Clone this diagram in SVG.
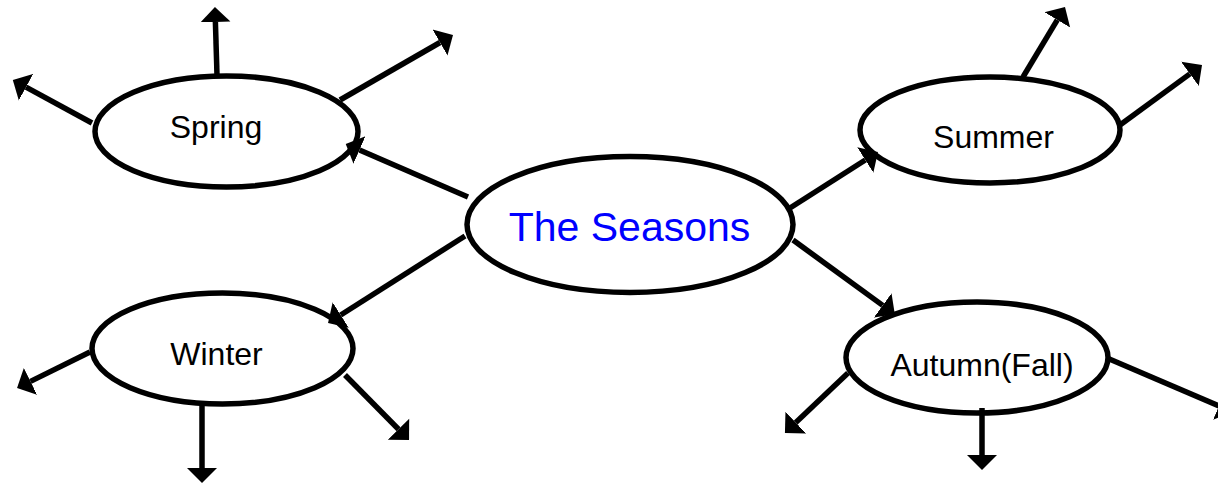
<svg xmlns="http://www.w3.org/2000/svg" width="1218" height="485" viewBox="0 0 1218 485">
<style>
.node ellipse{fill:#ffffff;stroke:#000000;stroke-width:5.5}
.lbl{font-family:"Liberation Sans",Arial,sans-serif;font-size:32px;fill:#000000;text-anchor:middle}
.main{font-family:"Liberation Sans",Arial,sans-serif;font-size:41px;fill:#0000ff;text-anchor:middle}
#connectors line{stroke:#000000;stroke-width:5.5;fill:none;marker-end:url(#ah)}
</style>
<defs>
<marker id="ah" markerUnits="userSpaceOnUse" markerWidth="18" markerHeight="32" viewBox="0 -16 18 32" refX="0" refY="0" orient="auto">
<path d="M0,-15 L15,0 L0,15 z" fill="#000000"/>
</marker>
</defs>
<rect width="1218" height="485" fill="#ffffff"/>
<g id="node-center" class="node"><ellipse cx="630" cy="224.5" rx="163" ry="68"/><text class="main" x="629.5" y="241">The Seasons</text></g>
<g id="node-spring" class="node"><ellipse cx="226.5" cy="131.5" rx="131.5" ry="55.5"/><text class="lbl" x="216" y="138">Spring</text></g>
<g id="node-summer" class="node"><ellipse cx="990" cy="130" rx="130" ry="53"/><text class="lbl" x="993.5" y="148">Summer</text></g>
<g id="node-winter" class="node"><ellipse cx="222.5" cy="348.5" rx="130.5" ry="55.5"/><text class="lbl" x="216.5" y="365">Winter</text></g>
<g id="node-autumn" class="node"><ellipse cx="977" cy="357.5" rx="131" ry="55.5"/><text class="lbl" x="982" y="376">Autumn(Fall)</text></g>
<g id="connectors">
<line x1="468" y1="197" x2="359.5" y2="150"/>
<line x1="217" y1="75" x2="215.4" y2="22"/>
<line x1="340" y1="100" x2="440" y2="42.5"/>
<line x1="92" y1="123" x2="26" y2="87.2"/>
<line x1="790" y1="208" x2="865.3" y2="160"/>
<line x1="1023" y1="77" x2="1057.3" y2="19.9"/>
<line x1="1120" y1="125" x2="1189.9" y2="73.9"/>
<line x1="465" y1="236" x2="340.7" y2="315"/>
<line x1="90" y1="352" x2="30.5" y2="381.4"/>
<line x1="202" y1="405" x2="202" y2="468"/>
<line x1="345" y1="375" x2="398.5" y2="429.3"/>
<line x1="793" y1="240" x2="882.7" y2="305.4"/>
<line x1="848" y1="373" x2="795.8" y2="422.6"/>
<line x1="982" y1="408" x2="982" y2="455"/>
<line x1="1107" y1="358" x2="1219" y2="405.9"/>
</g>
</svg>
